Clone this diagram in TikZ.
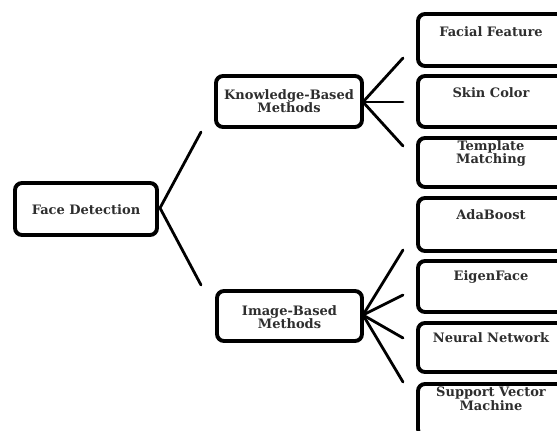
\documentclass[tikz,border=0pt]{standalone}
\usepackage{fontspec}
\setmainfont{DejaVu Serif}
\usetikzlibrary{shadows}
\begin{document}
\begin{tikzpicture}[x=1pt,y=-1pt,
  box/.style={draw=black, line width=3.9pt, rounded corners=7pt, fill=white, inner sep=0pt,
    drop shadow={shadow xshift=1pt, shadow yshift=-1.2pt, opacity=0.35, fill=black!60}},
  lbl/.style={font=\fontsize{13}{13.5}\selectfont\bfseries, text=black!82, align=center, inner sep=0pt},
  conn/.style={line width=2.8pt, line cap=round}]
\useasboundingbox (0,0) rectangle (557,431);
\clip (0,0) rectangle (557,431);
\fill[white] (0,0) rectangle (557,431);
% main boxes
\node[box, minimum width=142pt, minimum height=52pt] (fd) at (86,209) {};
\node[lbl] (fdt) at (86,210) {Face Detection};
\node[box, minimum width=146pt, minimum height=51pt] (kb) at (289,101.5) {};
\node[lbl] (kbt) at (289,101) {Knowledge-Based\\Methods};
\node[box, minimum width=145pt, minimum height=50pt] (ib) at (289.5,316) {};
\node[lbl] (ibt) at (289.5,317) {Image-Based\\Methods};
% right boxes
\node[box, minimum width=146pt, minimum height=52pt] (r1) at (491,40) {};
\node[box, minimum width=146pt, minimum height=51pt] (r2) at (491,101.5) {};
\node[box, minimum width=146pt, minimum height=49pt] (r3) at (491,162.5) {};
\node[box, minimum width=146pt, minimum height=53pt] (r4) at (491,224.5) {};
\node[box, minimum width=146pt, minimum height=51pt] (r5) at (491,286.5) {};
\node[box, minimum width=146pt, minimum height=49pt] (r6) at (491,347.5) {};
\node[box, minimum width=146pt, minimum height=52pt] (r7) at (491,410) {};
\node[lbl] (t1) at (491,32) {Facial Feature};
\node[lbl] (t2) at (491,93) {Skin Color};
\node[lbl] (t3) at (491,153.5) {Template\\Matching};
\node[lbl] (t4) at (491,215) {AdaBoost};
\node[lbl] (t5) at (491,277) {EigenFace};
\node[lbl] (t6) at (491,338) {Neural Network};
\node[lbl] (t7) at (491,399) {Support Vector\\Machine};
% connector free ends
\coordinate (fdh) at (160,208);
\coordinate (e1) at (201,132);
\coordinate (e2) at (201,285);
\coordinate (kbh) at (363,102);
\coordinate (k1) at (403,58);
\coordinate (k2) at (403,102);
\coordinate (k3) at (403,146);
\coordinate (ibh) at (363,315);
\coordinate (i1) at (403,250);
\coordinate (i2) at (403,295);
\coordinate (i3) at (403,338);
\coordinate (i4) at (403,382);
\draw[conn] (fdh) -- (e1);
\draw[conn] (fdh) -- (e2);
\draw[conn] (kbh) -- (k1);
\draw[conn] (kbh) -- (k2);
\draw[conn] (kbh) -- (k3);
\draw[conn] (ibh) -- (i1);
\draw[conn] (ibh) -- (i2);
\draw[conn] (ibh) -- (i3);
\draw[conn] (ibh) -- (i4);
\end{tikzpicture}
\end{document}
